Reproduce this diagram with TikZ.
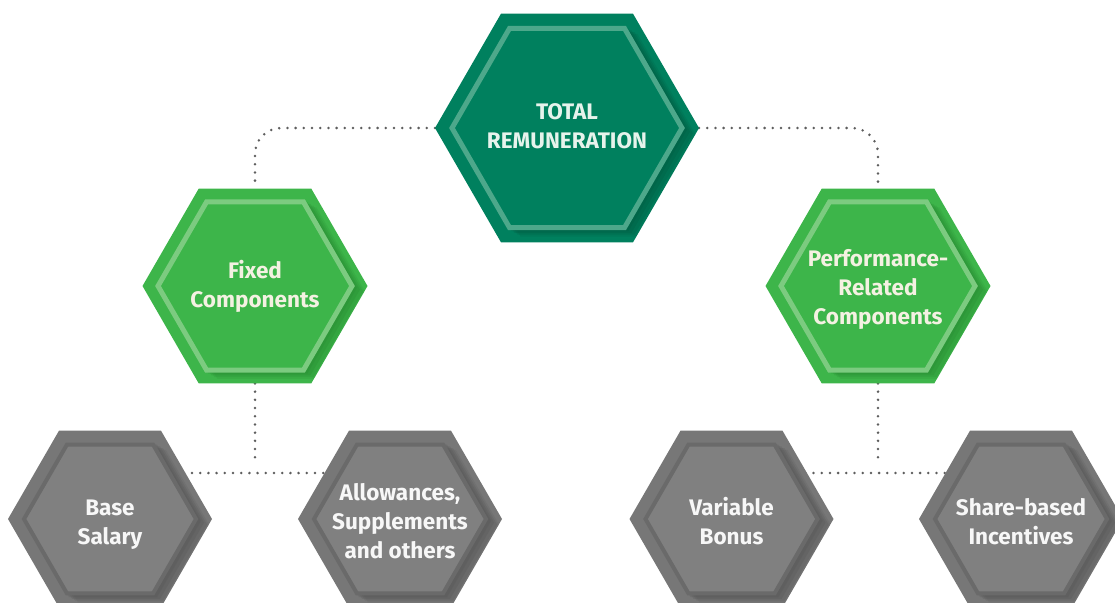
\documentclass[tikz,border=0pt]{standalone}
\usepackage{fontspec}
\setmainfont{Fira Sans}
\usetikzlibrary{shapes.geometric}
\pgfdeclarelayer{background}
\pgfsetlayers{background,main}

\definecolor{tgOut}{HTML}{00805E}
\definecolor{tgIn}{HTML}{00805E}
\definecolor{tgRing}{HTML}{4DA88B}
\definecolor{tgSh}{HTML}{00553C}
\definecolor{gnOut}{HTML}{3DB54A}
\definecolor{gnIn}{HTML}{3DB54A}
\definecolor{gnRing}{HTML}{7CCB80}
\definecolor{gnSh}{HTML}{23852E}
\definecolor{gyOut}{HTML}{777777}
\definecolor{gyIn}{HTML}{808080}
\definecolor{gyRing}{HTML}{6A6A6A}
\definecolor{gySh}{HTML}{505050}
\definecolor{connc}{HTML}{5E5E5E}
\definecolor{txtTop}{HTML}{E6F3EC}
\definecolor{txtGreen}{HTML}{F4F1E2}
\definecolor{txtGray}{HTML}{F7F7F7}

\tikzset{
  hexshape/.style={regular polygon, regular polygon sides=6, inner sep=0pt, outer sep=0pt, draw=none},
  connector/.style={draw=connc, line width=2.8pt, line cap=round, dash pattern=on 0pt off 8.2pt},
  lbl/.style={align=center, inner sep=0pt, font=\bfseries\fontsize{22.5}{29}\selectfont},
}

% #1 name, #2 position, #3 outer R, #4 ring R, #5 ring width, #6 colour prefix, #7 text colour, #8 text, #9 text shift
\newcommand\hexbox[9]{%
  \node[hexshape, fill=#6Out, minimum size=2*#3] (#1) at #2 {};
  \begin{scope}
    \clip (#1.0) -- (#1.60) -- (#1.120) -- (#1.180) -- (#1.240) -- (#1.300) -- cycle;
    \foreach \s/\o in {3/0.22,6/0.22,9/0.2,12/0.15} {
      \fill[#6Sh, opacity=\o] ([shift={(\s,0.6*\s)}]#1.center)
        +(0:#4+2) -- +(60:#4+2) -- +(120:#4+2) -- +(180:#4+2) -- +(240:#4+2) -- +(300:#4+2) -- cycle;
    }
  \end{scope}
  \filldraw[fill=#6In, draw=#6Ring, line width=#5] (#1.center)
    +(0:#4) -- +(60:#4) -- +(120:#4) -- +(180:#4) -- +(240:#4) -- +(300:#4) -- cycle;
  \node[lbl, text=#7] (#1-t) at ([yshift=#9]#1.center) {\strut #8\strut};
}

\begin{document}
\begin{tikzpicture}[x=1pt, y=-1pt]
  \useasboundingbox (0,0) rectangle (1115,602);
  \clip (0,0) rectangle (1115,602);

  \hexbox{top}{(567,128)}{132}{115}{5pt}{tg}{txtTop}{TOTAL\\REMUNERATION}{-0.5pt}
  \hexbox{fixed}{(255,286)}{112.5}{97}{5pt}{gn}{txtGreen}{Fixed\\Components}{-1pt}
  \hexbox{perf}{(878,286)}{112.5}{97}{5pt}{gn}{txtGreen}{Performance-\\Related\\Components}{-3.5pt}
  \hexbox{base}{(110,519)}{102}{86}{4pt}{gy}{txtGray}{Base\\Salary}{-5pt}
  \hexbox{allow}{(400,519)}{102}{86}{4pt}{gy}{txtGray}{Allowances,\\Supplements\\and others}{-5pt}
  \hexbox{bonus}{(731.5,519)}{102}{86}{4pt}{gy}{txtGray}{Variable\\Bonus}{-5pt}
  \hexbox{share}{(1021,519)}{102}{86}{4pt}{gy}{txtGray}{Share-based\\Incentives}{-5pt}

  \begin{pgfonlayer}{background}
    \draw[connector, rounded corners=26pt] (top.180) -| (fixed.90);
    \draw[connector, rounded corners=26pt] (top.0) -| (perf.90);
    \draw[connector] (fixed.270) -- ++(0,80);
    \draw[connector] (perf.270) -- ++(0,80);
    \draw[connector] ([yshift=46pt]base.center) -- ([yshift=46pt]allow.center);
    \draw[connector] ([yshift=46pt]bonus.center) -- ([yshift=46pt]share.center);
  \end{pgfonlayer}
\end{tikzpicture}
\end{document}
